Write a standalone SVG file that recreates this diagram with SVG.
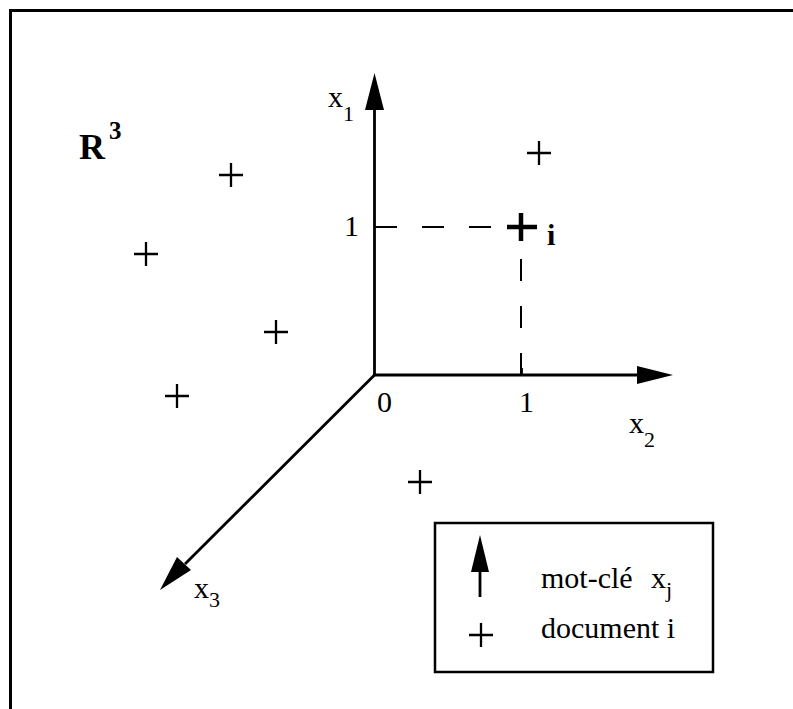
<svg xmlns="http://www.w3.org/2000/svg" width="793" height="709" viewBox="0 0 793 709">
<style>
text{font-family:"Liberation Serif","Times New Roman",serif;fill:#000}
.lbl{font-size:30px}
.sub{font-size:22px}
.ax{stroke:#000;stroke-width:2.8;fill:none}
.pt{stroke:#000;stroke-width:2.3;fill:none}
.dash{stroke:#000;stroke-width:2;fill:none;stroke-dasharray:22 25}
</style>
<defs>
<path id="plus" d="M-12 0H12M0 -12V12"/>
</defs>
<rect width="793" height="709" fill="#fff"/>
<path id="frame" d="M10.5 709V10.5H793" fill="none" stroke="#000" stroke-width="3"/>
<g id="connectors">
<path class="ax" d="M374.5 376V105"/>
<polygon points="374.5,73 365,110 384,110"/>
<path class="ax" d="M373 375H642"/>
<polygon points="673,375 637,366 637,384"/>
<path class="ax" d="M374.5 375L185 564"/>
<polygon points="160,590 177,557 191,570"/>
<path class="ax" d="M521.5 375V368"/>
<path class="dash" d="M375 227H516"/>
<path class="dash" d="M521 375V240"/>
</g>
<g id="labels">
<text class="lbl" x="328" y="107">x</text><text class="sub" x="343" y="121">1</text>
<text class="lbl" x="344" y="236">1</text>
<text class="lbl" x="377" y="412">0</text>
<text class="lbl" x="519" y="412">1</text>
<text class="lbl" x="629" y="433">x</text><text class="sub" x="644" y="447">2</text>
<text class="lbl" x="194" y="598">x</text><text class="sub" x="209" y="607">3</text>
<text x="79" y="159" font-size="36" font-weight="bold">R</text>
<text x="109" y="139" font-size="25" font-weight="bold">3</text>
</g>
<g id="point-i">
<path d="M507 227H537M521 213V241" stroke="#000" stroke-width="4.5" fill="none"/>
<text x="547" y="245" font-size="30" font-weight="bold">i</text>
</g>
<g id="documents">
<use href="#plus" class="pt" x="539" y="153"/>
<use href="#plus" class="pt" x="231" y="175"/>
<use href="#plus" class="pt" x="146" y="254"/>
<use href="#plus" class="pt" x="276" y="332"/>
<use href="#plus" class="pt" x="177" y="396"/>
<use href="#plus" class="pt" x="420" y="482"/>
</g>
<g id="legend">
<rect x="435" y="523" width="278" height="149" fill="none" stroke="#000" stroke-width="2.5"/>
<path class="ax" d="M480 597V565"/>
<polygon points="480,535 471,572 489,572"/>
<text class="lbl" x="541" y="588">mot-clé</text>
<text class="lbl" x="651" y="588">x</text><text class="sub" x="666" y="597">j</text>
<use href="#plus" class="pt" x="481" y="635"/>
<text class="lbl" x="541" y="638">document i</text>
</g>
</svg>
